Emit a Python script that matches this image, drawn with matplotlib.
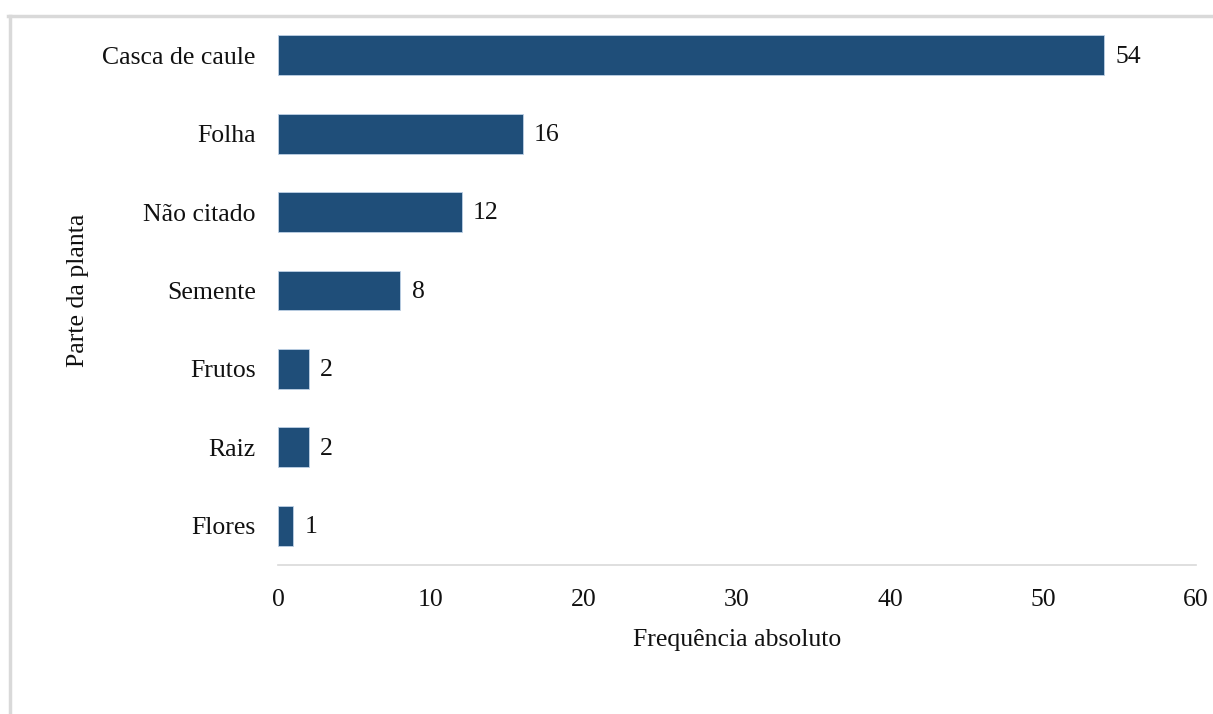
import matplotlib
matplotlib.use("Agg")
import matplotlib.pyplot as plt
from matplotlib.lines import Line2D

categories = ["Casca de caule", "Folha", "Não citado", "Semente", "Frutos", "Raiz", "Flores"]
values = [54, 16, 12, 8, 2, 2, 1]
xticks = [0, 10, 20, 30, 40, 50, 60]

plt.rcParams['font.family'] = ['Liberation Serif', 'DejaVu Serif']
FS = 18.5

W, H = 1213, 714
fig = plt.figure(figsize=(W / 100, H / 100), dpi=100)

# outer frame (left and top edges, light gray)
fig.add_artist(Line2D([9.5 / W, 9.5 / W], [0, 1 - 16 / H], transform=fig.transFigure,
                      color="#d9d9d9", lw=2.5))
fig.add_artist(Line2D([8 / W, 1.0], [1 - 16 / H, 1 - 16 / H], transform=fig.transFigure,
                      color="#d9d9d9", lw=2.5))

left, right, top, bottom = 278, 1196, 16, 565
ax = fig.add_axes([left / W, 1 - bottom / H, (right - left) / W, (bottom - top) / H])

y = list(range(len(categories)))
ax.barh(y, values, height=0.51, color="#1f4e79", edgecolor="#bdd0e6", linewidth=0.6)
ax.set_ylim(len(categories) - 0.5, -0.5)
ax.set_xlim(0, 60)
ax.set_xticks(xticks)
ax.set_xticklabels([str(t) for t in xticks])
ax.set_yticks(y)
ax.set_yticklabels(categories)

for yi, v in zip(y, values):
    ax.annotate(str(v), (v, yi), xytext=(8, -1), textcoords="offset points",
                va="center", ha="left", fontsize=FS, color="#111111")

for s in ["top", "right", "left"]:
    ax.spines[s].set_visible(False)
ax.spines["bottom"].set_color("#d9d9d9")
ax.spines["bottom"].set_linewidth(1.2)
ax.tick_params(axis="both", length=0, labelsize=FS, colors="#111111")
ax.tick_params(axis="x", pad=17)
ax.tick_params(axis="y", pad=16)

ax.set_xlabel("Frequência absoluto", fontsize=FS, color="#111111", labelpad=13)
ax.set_ylabel("Parte da planta", fontsize=FS, color="#111111", labelpad=10)

fig.savefig("out.png", dpi=100)
